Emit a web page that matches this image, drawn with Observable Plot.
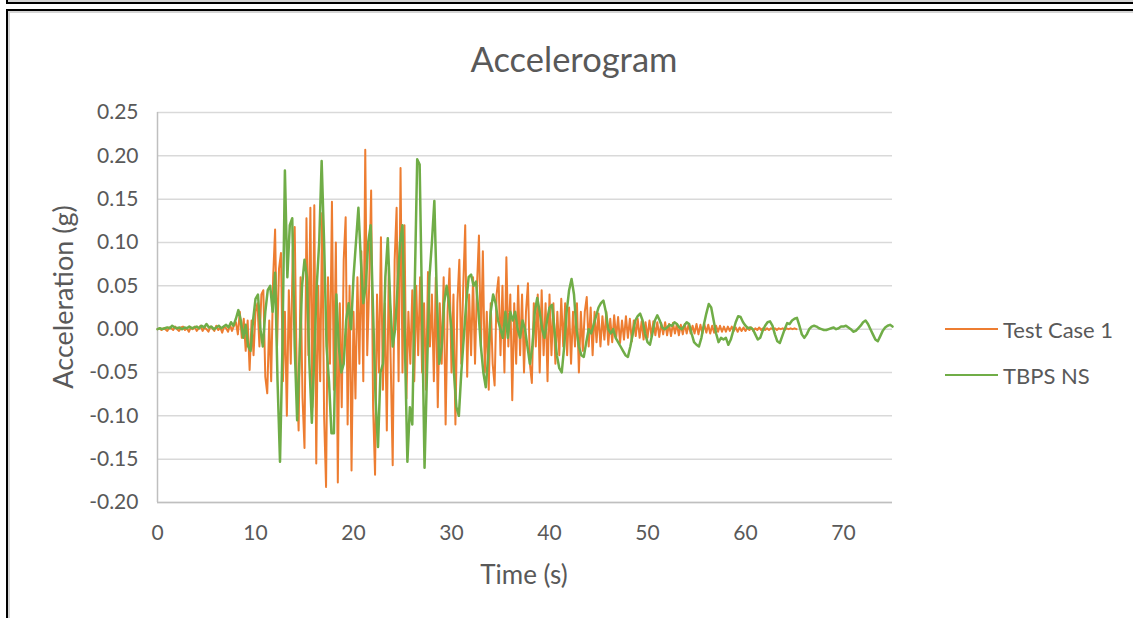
<!DOCTYPE html>
<html>
<head>
<meta charset="utf-8">
<script src="https://cdn.jsdelivr.net/npm/d3@7"></script>
<script src="https://cdn.jsdelivr.net/npm/@observablehq/plot@0.6"></script>
<style>
html, body { margin: 0; padding: 0; background: #fff; }
body { width: 1133px; height: 618px; position: relative; overflow: hidden; font-family: Lato, "Open Sans", sans-serif; color: #595959; }
#frameTop { position: absolute; left: 6px; top: -11px; width: 1200px; height: 11px; border: 2px solid #000; box-shadow: inset 0 -1px 0 1px #d4d4d4; }
#frame { position: absolute; left: 6px; top: 9px; width: 1200px; height: 700px; border: 2px solid #000; box-shadow: inset 1px 1px 0 1px #d4d4d4; }
#chart { position: absolute; left: 0; top: 0; }
.t { position: absolute; white-space: nowrap; transform: translate(-50%, -50%); }
#title { left: 574px; top: 58px; font-size: 34.5px; }
#xtitle { left: 524px; top: 574px; font-size: 26px; }
#ytitle { left: 62px; top: 297px; font-size: 27px; transform: translate(-50%, -50%) rotate(-90deg); }
.leg { position: absolute; left: 945px; height: 26px; display: flex; align-items: center; font-size: 22px; transform: translateY(-50%); }
.leg span.sw { display: inline-block; width: 53px; height: 2.5px; margin-right: 5px; }
</style>
</head>
<body>
<div id="frameTop"></div>
<div id="frame"></div>
<div id="chart"></div>
<div class="t" id="title">Accelerogram</div>
<div class="t" id="xtitle">Time (s)</div>
<div class="t" id="ytitle">Acceleration (g)</div>
<div id="legend"></div>
<script>
// ---- Data ----
const seriesNames = ["Test Case 1", "TBPS NS"];
const seriesColors = ["#ED7D31", "#70AD47"];

// Test Case 1: sampled every 0.2 s, one row per second (t = 0 … 65.2 s)
const testCaseStep = 0.2;
const testCase1 = [
  0.000, 0.001,-0.001, 0.001, 0.000,   // 0 s
 -0.002, 0.002, 0.001,-0.001, 0.003,   // 1
  0.000,-0.002, 0.002, 0.003,-0.001,   // 2
  0.001,-0.003, 0.002, 0.000, 0.003,   // 3
 -0.002, 0.001, 0.004,-0.002, 0.002,   // 4
  0.000,-0.003, 0.003, 0.001,-0.002,   // 5
  0.004,-0.001, 0.002,-0.004, 0.003,   // 6
  0.001,-0.003, 0.005,-0.002, 0.004,   // 7
  0.008,-0.006, 0.020,-0.010, 0.012,   // 8
 -0.025, 0.010,-0.047, 0.010,-0.030,   // 9
  0.020, 0.030,-0.020, 0.040, 0.045,   // 10
 -0.055,-0.074, 0.010,-0.060, 0.060,   // 11
  0.115,-0.020, 0.070, 0.088,-0.060,   // 12
  0.020,-0.100, 0.045,-0.040, 0.090,   // 13
  0.118,-0.050,-0.117, 0.060,-0.080,   // 14
 -0.137, 0.128,-0.030, 0.140,-0.090,   // 15
  0.143,-0.155, 0.050,-0.060, 0.134,   // 16
 -0.100,-0.182, 0.060,-0.040, 0.147,   // 17
 -0.070, 0.100,-0.177, 0.030,-0.090,   // 18
  0.080, 0.129,-0.110, 0.050,-0.163,   // 19
  0.020,-0.080, 0.060,-0.040, 0.090,   // 20
 -0.060, 0.207,-0.030, 0.050, 0.160,   // 21
 -0.090,-0.168, 0.040,-0.050, 0.106,   // 22
 -0.070, 0.030,-0.117, 0.070,-0.040,   // 23
 -0.157, 0.080, 0.140,-0.060, 0.186,   // 24
 -0.050, 0.120,-0.080, 0.020,-0.040,   // 25
  0.045,-0.060, 0.050,-0.030, 0.060,   // 26
 -0.050, 0.030,-0.070, 0.066,-0.020,   // 27
  0.040,-0.060, 0.060,-0.090, 0.030,   // 28
 -0.040, 0.060,-0.110, 0.020, 0.070,   // 29
 -0.050, 0.040,-0.110, 0.030, 0.080,   // 30
 -0.040, 0.050, 0.120,-0.055, 0.040,   // 31
 -0.030, 0.060,-0.040, 0.050, 0.108,   // 32
 -0.020, 0.090,-0.050, 0.020,-0.070,   // 33
  0.030,-0.040,-0.065, 0.040, 0.060,   // 34
 -0.030, 0.050,-0.050, 0.083,-0.020,   // 35
  0.040,-0.082, 0.030,-0.040, 0.050,   // 36
 -0.030, 0.040,-0.050, 0.020, 0.053,   // 37
 -0.040,-0.062, 0.030,-0.020, 0.040,   // 38
 -0.050, 0.045,-0.030, 0.030,-0.060,   // 39
  0.040,-0.030, 0.030,-0.040, 0.020,   // 40
 -0.030, 0.035,-0.020, 0.030,-0.030,   // 41
  0.025,-0.040, 0.020,-0.020, 0.030,   // 42
 -0.050, 0.020,-0.025, 0.020, 0.037,   // 43
 -0.020, 0.025,-0.030, 0.020,-0.015,   // 44
  0.018,-0.020, 0.015,-0.012, 0.020,   // 45
 -0.018, 0.012,-0.015, 0.016,-0.010,   // 46
  0.014,-0.016, 0.010,-0.012, 0.015,   // 47
 -0.010, 0.012,-0.014, 0.010,-0.008,   // 48
  0.012,-0.010, 0.009,-0.012, 0.008,   // 49
 -0.010, 0.010,-0.008, 0.009,-0.007,   // 50
  0.008,-0.009, 0.007,-0.006, 0.008,   // 51
 -0.007, 0.006,-0.008, 0.007,-0.005,   // 52
  0.006,-0.007, 0.005,-0.006, 0.006,   // 53
 -0.005, 0.006,-0.005, 0.004,-0.005,   // 54
  0.006,-0.006, 0.005,-0.005, 0.006,   // 55
 -0.004, 0.005,-0.005, 0.004,-0.004,   // 56
  0.004,-0.003, 0.004,-0.003, 0.003,   // 57
 -0.003, 0.003,-0.002, 0.003,-0.002,   // 58
  0.002,-0.003, 0.002,-0.002, 0.002,   // 59
 -0.002, 0.002,-0.001, 0.002,-0.002,   // 60
  0.001,-0.001, 0.002,-0.001, 0.001,   // 61
 -0.001, 0.001,-0.001, 0.001, 0.000,   // 62
  0.001,-0.001, 0.001, 0.000, 0.001,   // 63
 -0.001, 0.001, 0.000, 0.001, 0.000,   // 64
  0.001, 0.000                         // 65
];

// TBPS NS: sampled every 0.25 s, one row per second (t = 0 … 75 s)
const tbpsStep = 0.25;
const tbpsNS = [
  0.000, 0.001, 0.000, 0.001,   // 0 s
  0.002, 0.001, 0.004, 0.002,   // 1
  0.001, 0.002, 0.000, 0.002,   // 2
  0.001, 0.003, 0.001, 0.002,   // 3
  0.003, 0.001, 0.004, 0.002,   // 4
  0.006, 0.002, 0.003, 0.000,   // 5
  0.002, 0.004, 0.001, 0.003,   // 6
  0.005, 0.002, 0.008, 0.004,   // 7
  0.012, 0.022, 0.010,-0.010,   // 8
  0.005,-0.020,-0.025, 0.010,   // 9
  0.035, 0.040, 0.000,-0.020,   // 10
  0.020, 0.045, 0.050, 0.020,   // 11
  0.065,-0.060,-0.153,-0.020,   // 12
  0.183, 0.060, 0.120, 0.128,   // 13
 -0.020,-0.105,-0.030, 0.050,   // 14
  0.080, 0.060,-0.040,-0.108,   // 15
 -0.030, 0.050, 0.100, 0.194,   // 16
  0.100,-0.020,-0.060,-0.120,   // 17
 -0.120, 0.040,-0.020,-0.050,   // 18
 -0.040, 0.010, 0.030, 0.000,   // 19
  0.060, 0.100, 0.140, 0.080,   // 20
  0.030, 0.050, 0.100, 0.120,   // 21
  0.020,-0.080,-0.136,-0.050,   // 22
 -0.040, 0.060, 0.105, 0.030,   // 23
 -0.020, 0.000, 0.050, 0.100,   // 24
  0.120,-0.020,-0.153,-0.090,   // 25
 -0.110, 0.050, 0.196, 0.190,   // 26
  0.020,-0.160,-0.050, 0.060,   // 27
  0.100, 0.148, 0.040,-0.040,   // 28
 -0.020, 0.030, 0.050, 0.030,   // 29
  0.000,-0.050,-0.090,-0.100,   // 30
 -0.050,-0.010, 0.030, 0.060,   // 31
  0.063, 0.050, 0.055, 0.020,   // 32
 -0.020,-0.050,-0.067,-0.030,   // 33
  0.020, 0.040, 0.030, 0.010,   // 34
  0.000,-0.010, 0.020,-0.010,   // 35
  0.020, 0.010, 0.020, 0.000,   // 36
 -0.010, 0.010, 0.000,-0.020,   // 37
 -0.040,-0.020, 0.020, 0.036,   // 38
  0.020, 0.000,-0.010, 0.010,   // 39
  0.025, 0.028, 0.000,-0.030,   // 40
 -0.045,-0.050,-0.020, 0.020,   // 41
  0.045, 0.058, 0.040, 0.000,   // 42
 -0.020,-0.030,-0.032,-0.015,   // 43
  0.000,-0.005, 0.005, 0.015,   // 44
  0.025, 0.030, 0.033, 0.020,   // 45
  0.000,-0.005, 0.000,-0.010,   // 46
 -0.015,-0.020,-0.025,-0.030,   // 47
 -0.032,-0.020,-0.005, 0.010,   // 48
  0.015, 0.018, 0.010,-0.005,   // 49
 -0.015,-0.018,-0.005, 0.010,   // 50
  0.016, 0.010, 0.002, 0.000,   // 51
  0.002, 0.005, 0.004, 0.008,   // 52
  0.006, 0.002, 0.000, 0.004,   // 53
  0.008, 0.006,-0.005,-0.015,   // 54
 -0.018,-0.020,-0.010, 0.005,   // 55
  0.018, 0.029, 0.025, 0.010,   // 56
 -0.005,-0.015,-0.010,-0.012,   // 57
 -0.010,-0.018,-0.012,-0.002,   // 58
  0.008, 0.015, 0.014, 0.008,   // 59
  0.004, 0.001, 0.002, 0.000,   // 60
 -0.006,-0.012,-0.010,-0.002,   // 61
  0.004, 0.008, 0.009, 0.004,   // 62
 -0.006,-0.014,-0.016,-0.008,   // 63
  0.000, 0.007, 0.006, 0.010,   // 64
  0.012, 0.013, 0.004,-0.006,   // 65
 -0.010,-0.006, 0.000, 0.003,   // 66
  0.004, 0.003, 0.001, 0.000,   // 67
 -0.001,-0.001, 0.000, 0.001,   // 68
  0.002, 0.000, 0.001, 0.003,   // 69
  0.003, 0.004, 0.002, 0.000,   // 70
 -0.003,-0.002, 0.001, 0.004,   // 71
  0.008, 0.010, 0.006, 0.000,   // 72
 -0.006,-0.012,-0.014,-0.008,   // 73
 -0.002, 0.002, 0.004, 0.005,   // 74
  0.003                         // 75
];

const xTicks = [0, 10, 20, 30, 40, 50, 60, 70];
const yTicks = [-0.20, -0.15, -0.10, -0.05, 0.00, 0.05, 0.10, 0.15, 0.20, 0.25];
const xDomain = [0, 75];
const yDomain = [-0.20, 0.25];

// ---- Build tables ----
const testData = testCase1.map((v, i) => ({ t: +(i * testCaseStep).toFixed(2), a: v }));
const tbpsData = tbpsNS.map((v, i) => ({ t: +(i * tbpsStep).toFixed(2), a: v }));

const fontFamily = "Lato, 'Open Sans', sans-serif";

const chart = Plot.plot({
  width: 1133,
  height: 618,
  marginLeft: 157,
  marginRight: 241,
  marginTop: 112,
  marginBottom: 116,
  style: { background: "transparent", fontFamily, fontSize: "21px", color: "#595959", overflow: "visible" },
  x: { domain: xDomain },
  y: { domain: yDomain },
  marks: [
    Plot.gridY(yTicks, { stroke: "#D9D9D9", strokeOpacity: 1, strokeWidth: 1.5 }),
    Plot.ruleX([xDomain[0]], { y1: yDomain[0], y2: yDomain[1], stroke: "#BFBFBF", strokeWidth: 1.5 }),
    Plot.ruleY([yDomain[0]], { stroke: "#BFBFBF", strokeWidth: 1.5 }),
    Plot.axisY(yTicks, { tickSize: 0, tickPadding: 19, tickFormat: d => d.toFixed(2), label: null, fill: "#595959", fontSize: 21 }),
    Plot.axisX(xTicks, { tickSize: 0, tickPadding: 23, tickFormat: d => String(d), label: null, fill: "#595959", fontSize: 21 }),
    Plot.line(testData, { x: "t", y: "a", stroke: seriesColors[0], strokeWidth: 2 }),
    Plot.line(tbpsData, { x: "t", y: "a", stroke: seriesColors[1], strokeWidth: 2.5 })
  ]
});
document.getElementById("chart").append(chart);

// ---- Legend ----
const legend = document.getElementById("legend");
const legendTops = [329, 375];
seriesNames.forEach((name, i) => {
  const row = document.createElement("div");
  row.className = "leg";
  row.style.top = legendTops[i] + "px";
  const sw = document.createElement("span");
  sw.className = "sw";
  sw.style.background = seriesColors[i];
  const label = document.createElement("span");
  label.textContent = name;
  row.append(sw, label);
  legend.append(row);
});
</script>
</body>
</html>
